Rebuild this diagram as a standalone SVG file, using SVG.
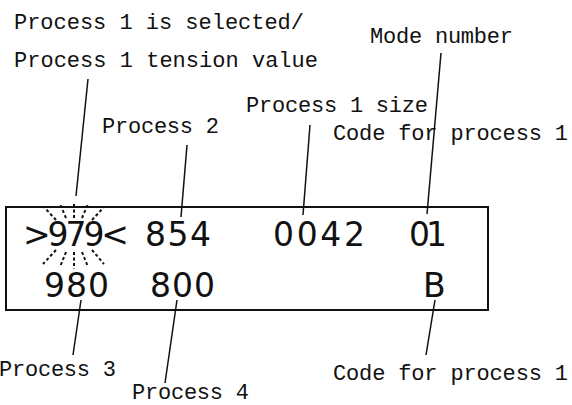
<svg xmlns="http://www.w3.org/2000/svg" width="572" height="405" viewBox="0 0 572 405">
<style>
.lbl{font-family:"Liberation Mono",monospace;font-size:22px;fill:#111;}
.dig{font-family:"DejaVu Sans",sans-serif;font-size:33px;fill:#111;}
.ld{stroke:#111;stroke-width:1.5;fill:none;}
.ray{stroke:#111;stroke-width:2;stroke-dasharray:3 2.5;fill:none;}
</style>
<rect width="572" height="405" fill="#fff"/>
<g id="display">
<rect x="6" y="207" width="482" height="103" fill="none" stroke="#111" stroke-width="2"/>
<text class="dig" x="23" y="246" textLength="106" lengthAdjust="spacing">&gt;979&lt;</text>
<text class="dig" x="145" y="246" textLength="66" lengthAdjust="spacing">854</text>
<text class="dig" x="273" y="246" textLength="92" lengthAdjust="spacing">0042</text>
<text class="dig" x="409" y="246" textLength="38" lengthAdjust="spacing">01</text>
<text class="dig" x="44" y="297" textLength="65" lengthAdjust="spacing">980</text>
<text class="dig" x="150" y="297" textLength="65" lengthAdjust="spacing">800</text>
<text class="dig" x="423" y="297">B</text>
</g>
<g id="sparkle">
<line class="ray" x1="74" y1="218" x2="74" y2="202"/>
<line class="ray" x1="66" y1="218" x2="60" y2="204"/>
<line class="ray" x1="56" y1="220" x2="44" y2="207"/>
<line class="ray" x1="82" y1="218" x2="88" y2="204"/>
<line class="ray" x1="92" y1="220" x2="104" y2="207"/>
<line class="ray" x1="74" y1="252" x2="74" y2="269"/>
<line class="ray" x1="66" y1="252" x2="60" y2="267"/>
<line class="ray" x1="56" y1="250" x2="43" y2="264"/>
<line class="ray" x1="82" y1="252" x2="88" y2="267"/>
<line class="ray" x1="92" y1="250" x2="104" y2="264"/>
</g>
<g id="labels">
<text class="lbl" x="14" y="29" textLength="290" lengthAdjust="spacing">Process 1 is selected/</text>
<text class="lbl" x="14" y="67" textLength="304" lengthAdjust="spacing">Process 1 tension value</text>
<text class="lbl" x="370" y="43" textLength="143" lengthAdjust="spacing">Mode number</text>
<text class="lbl" x="102" y="133" textLength="117" lengthAdjust="spacing">Process 2</text>
<text class="lbl" x="246" y="112" textLength="182" lengthAdjust="spacing">Process 1 size</text>
<text class="lbl" x="333" y="140" textLength="235" lengthAdjust="spacing">Code for process 1</text>
<text class="lbl" x="-1" y="376" textLength="117" lengthAdjust="spacing">Process 3</text>
<text class="lbl" x="132" y="399" textLength="117" lengthAdjust="spacing">Process 4</text>
<text class="lbl" x="333" y="380" textLength="235" lengthAdjust="spacing">Code for process 1</text>
</g>
<g id="connectors">
<line class="ld" x1="88" y1="79" x2="76" y2="196"/>
<line class="ld" x1="187" y1="145" x2="181" y2="217"/>
<line class="ld" x1="310" y1="125" x2="303" y2="215"/>
<line class="ld" x1="441" y1="53" x2="427" y2="214"/>
<line class="ld" x1="81" y1="300" x2="73" y2="355"/>
<line class="ld" x1="177" y1="300" x2="165" y2="383"/>
<line class="ld" x1="435" y1="300" x2="426" y2="355"/>
</g>
</svg>
